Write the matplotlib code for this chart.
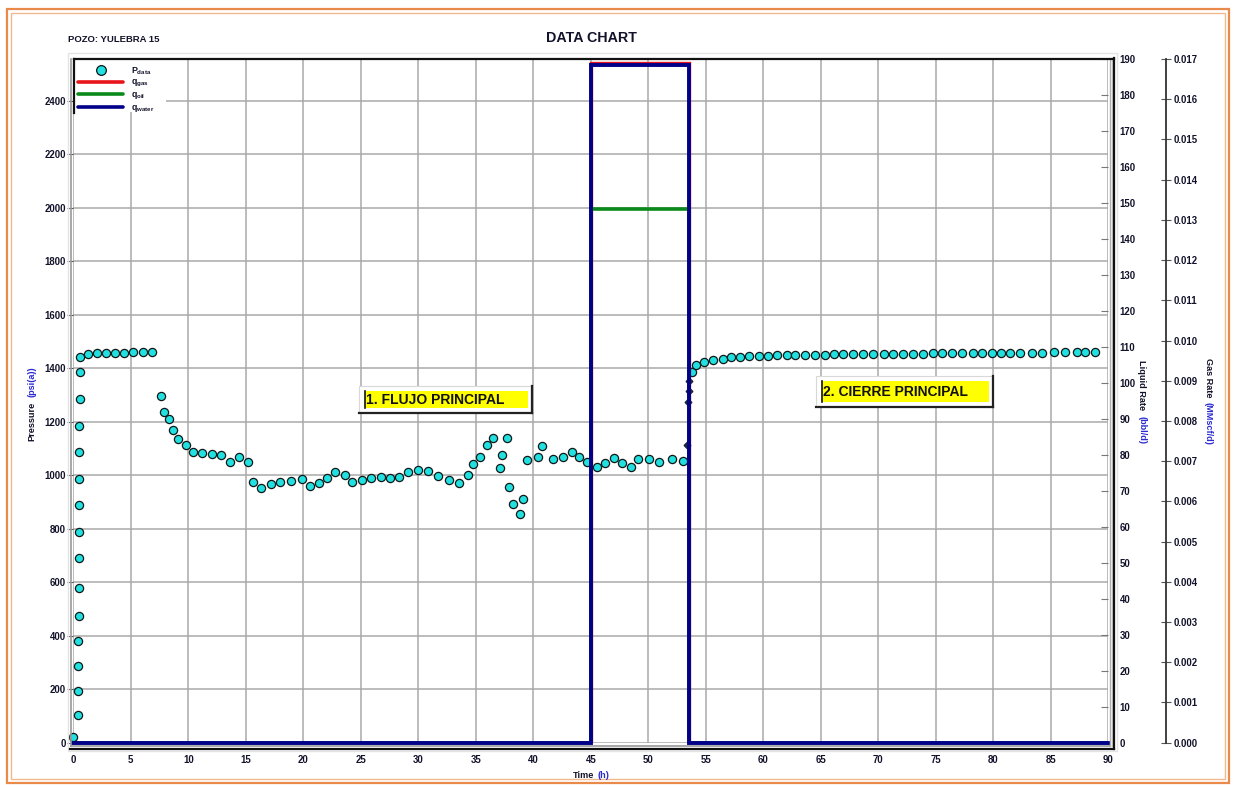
import matplotlib
matplotlib.use("Agg")
import matplotlib.pyplot as plt
from matplotlib.patches import Rectangle

plt.rcParams['font.family'] = ['Liberation Sans', 'DejaVu Sans']
plt.rcParams['mathtext.fontset'] = 'custom'
plt.rcParams['mathtext.rm'] = 'Liberation Sans'
plt.rcParams['mathtext.it'] = 'Liberation Sans:italic'
plt.rcParams['mathtext.bf'] = 'Liberation Sans:bold'

# ---------------- data ----------------
well_name = "POZO: YULEBRA 15"
chart_title = "DATA CHART"

# pressure gauge readings (time in h, pressure in psia)
p_time = [0.00, 0.42, 0.43, 0.44, 0.45, 0.46, 0.47, 0.48, 0.49, 0.50, 0.51, 0.52, 0.53, 0.54, 0.55,
          0.58, 1.25, 2.06, 2.85, 3.60, 4.38, 5.17, 6.04, 6.86,
          7.60, 7.86, 8.30, 8.70, 9.07, 9.80, 10.44, 11.20, 12.06, 12.84, 13.65, 14.40, 15.17,
          15.60, 16.35, 17.17, 17.98, 18.90, 19.86, 20.58, 21.37, 22.03, 22.76, 23.63, 24.20,
          25.08, 25.90, 26.73, 27.55, 28.35, 29.08, 30.00, 30.87, 31.74, 32.67, 33.54, 34.35,
          34.76, 35.37, 35.95, 36.53, 37.10, 37.26, 37.69, 37.92, 38.26, 38.84, 39.08, 39.43,
          40.38, 40.78, 41.69, 42.60, 43.34, 44.00, 44.70, 45.50, 46.22, 47.00, 47.68, 48.50,
          49.07, 50.06, 50.96, 52.03, 52.99,
          53.77, 54.15, 54.85, 55.65, 56.47, 57.20, 57.97, 58.80, 59.60, 60.43, 61.20,
          62.03, 62.80, 63.63, 64.50, 65.37, 66.15, 66.96, 67.83, 68.70, 69.57, 70.50, 71.30,
          72.17, 73.04, 73.86, 74.73, 75.51, 76.38, 77.25, 78.26, 78.99, 79.86, 80.64, 81.45,
          82.32, 83.34, 84.21, 85.28, 86.23, 87.25, 87.97, 88.84]
p_psia = [20, 104, 194, 288, 381, 474, 579, 690, 787, 888, 985, 1086, 1184, 1284, 1385,
          1443, 1452, 1457, 1457, 1457, 1457, 1460, 1460, 1460,
          1297, 1237, 1211, 1169, 1136, 1113, 1088, 1084, 1079, 1075, 1050, 1067, 1050,
          976, 951, 967, 976, 979, 985, 961, 970, 988, 1013, 1001, 976,
          982, 991, 994, 988, 994, 1012, 1019, 1015, 998, 982, 972, 1000,
          1041, 1069, 1113, 1138, 1028, 1076, 1140, 957, 891, 854, 911, 1057,
          1069, 1109, 1061, 1067, 1087, 1069, 1050, 1032, 1047, 1063, 1047, 1032,
          1061, 1061, 1048, 1061, 1054,
          1387, 1412, 1424, 1431, 1434, 1441, 1443, 1446, 1446, 1447, 1449,
          1449, 1449, 1449, 1450, 1451, 1452, 1452, 1453, 1453, 1453, 1454, 1454,
          1455, 1455, 1455, 1456, 1456, 1456, 1456, 1457, 1457, 1457, 1457, 1457,
          1458, 1458, 1458, 1459, 1460, 1461, 1461, 1461]

# readings at the instant of shut-in (drawn as small dark points)
shut_time = [53.40, 53.45, 53.50, 53.55]
shut_psia = [1113, 1275, 1316, 1353]

# rate history (step profile)
rate_time = [0.0, 45.0, 45.0, 53.55, 53.55, 90.0]
q_water = [0.0, 0.0, 188.4, 188.4, 0.0, 0.0]      # bbl/d
q_oil = [0.0, 0.0, 148.2, 148.2, 0.0, 0.0]        # bbl/d
q_gas = [0.0, 0.0, 0.0169, 0.0169, 0.0, 0.0]      # MMscf/d

time_ticks = list(range(0, 91, 5))
pressure_ticks = list(range(0, 2401, 200))
liquid_ticks = list(range(0, 191, 10))
gas_ticks = [i / 1000 for i in range(0, 18)]

flow_label = "1. FLUJO PRINCIPAL"
buildup_label = "2. CIERRE PRINCIPAL"

# ---------------- figure ----------------
W, H = 1234, 785
fig = plt.figure(figsize=(W / 100, H / 100), dpi=100)
fig.patch.set_facecolor('white')


def px_box(l, t, r, b):
    return [l / W, 1 - b / H, (r - l) / W, (b - t) / H]


PL, PT, PR, PB = 73.3, 59.0, 1108.3, 742.7
TXT = '#12122a'
BLUE_TXT = '#2a2ad0'
GRID = '#a9a9a9'
TICK_FS = 6.9

ax = fig.add_axes(px_box(PL, PT, PR, PB))
ax.set_xlim(0, 90)
ax.set_ylim(0, 2556)
ax.set_xticks(time_ticks)
ax.set_yticks(pressure_ticks)
ax.grid(True, color=GRID, lw=1.1)
ax.set_axisbelow(True)
for s in ax.spines.values():
    s.set_visible(False)
ax.tick_params(axis='x', length=0, pad=9, labelsize=TICK_FS, labelcolor=TXT)
ax.tick_params(axis='y', direction='out', length=4, width=0.8, color='#555555',
               pad=1.5, labelsize=TICK_FS, labelcolor=TXT)

ax.plot(p_time, p_psia, ls='none', marker='o', ms=5.9, mfc='#22e0e0',
        mec='#101818', mew=0.9, clip_on=False, zorder=3)
ax.plot(shut_time, shut_psia, ls='none', marker='D', ms=3.4, mfc='#1a2633',
        mec='#1a2633', clip_on=False, zorder=3)

# gas rate axis (outer right)
ax3 = ax.twinx()
ax3.set_zorder(1)
ax3.set_ylim(0, 0.01696)
ax3.set_yticks(gas_ticks)
ax3.set_yticklabels([f"{v:.3f}" for v in gas_ticks])
for k in ('top', 'bottom', 'left'):
    ax3.spines[k].set_visible(False)
ax3.spines['right'].set_position(('axes', (1166 - PL) / (PR - PL)))
ax3.spines['right'].set_color('#333333')
ax3.spines['right'].set_linewidth(1.3)
ax3.tick_params(axis='y', direction='inout', length=7, width=0.8, color='#555555',
                pad=2, labelsize=TICK_FS, labelcolor=TXT)
ax3.plot(rate_time, q_gas, color='#e8141a', lw=2.4, solid_joinstyle='miter')

# liquid rate axis (inner right)
ax2 = ax.twinx()
ax2.set_zorder(2)
ax2.set_ylim(0, 190)
ax2.set_yticks(liquid_ticks)
for s in ax2.spines.values():
    s.set_visible(False)
ax2.tick_params(axis='y', direction='in', length=5, width=0.8, color='#777777',
                pad=8, labelsize=TICK_FS, labelcolor=TXT)
ax2.plot(rate_time, q_oil, color='#0a8a1a', lw=2.6, solid_joinstyle='miter')
ax2.plot(rate_time, q_water, color='#000088', lw=2.8, solid_joinstyle='miter',
         clip_on=False)

for a in (ax, ax2, ax3):
    for lab in a.get_xticklabels() + a.get_yticklabels():
        lab.set_fontweight('bold')

# ---------------- overlay for frame, titles, legend and annotations ----------------
ov = fig.add_axes([0, 0, 1, 1], zorder=10)
ov.set_xlim(0, W)
ov.set_ylim(H, 0)
ov.axis('off')
ov.patch.set_visible(False)

# page border
ov.add_patch(Rectangle((7, 9), 1222, 774, fill=False, ec='#e98a4a', lw=1.6))
ov.add_patch(Rectangle((11, 13), 1214, 766, fill=False, ec='#f3b98e', lw=1.0))

# plot frame
ov.add_patch(Rectangle((68, 53), 1049, 698, fill=False, ec='#e4e4e4', lw=1.0))
ov.plot([71, 71], [59, 746], color='#9a9a9a', lw=1.2)
ov.plot([71, 1110], [745.7, 745.7], color='#9a9a9a', lw=1.2)
ov.plot([1109.5, 1109.5], [59, 746], color='#b0b0b0', lw=1.0)
ov.plot([1111.7, 1111.7], [59, 746], color='#c8c8c8', lw=1.0)
ov.plot([70, 1113.5], [748.6, 748.6], color='#111111', lw=1.6)
ov.plot([1113.5, 1113.5], [58, 749], color='#111111', lw=1.6)
ov.plot([74, 1113.5], [59.3, 59.3], color='#111111', lw=1.6)

# legend
ov.add_patch(Rectangle((74.5, 60.2), 91, 52, fc='white', ec='none'))
ov.plot([74.3, 74.3], [59.3, 113], color='#111111', lw=1.6)
ov.plot([101], [70], ls='none', marker='o', ms=7.0, mfc='#22e0e0', mec='#101818', mew=0.9)
ov.plot([78, 123], [81.5, 81.5], color='#e8141a', lw=2.6, solid_capstyle='round')
ov.plot([78, 123], [94, 94], color='#0a8a1a', lw=2.6, solid_capstyle='round')
ov.plot([78, 123], [106.5, 106.5], color='#000088', lw=2.6, solid_capstyle='round')
leg_kw = dict(fontsize=6.3, color=TXT, va='center', ha='left')
ov.text(131, 71, r'$\mathbf{P}_{\mathbf{data}}$', **leg_kw)
ov.text(131, 83, r'$\mathbf{q}_{\mathbf{gas}}$', **leg_kw)
ov.text(131, 95.5, r'$\mathbf{q}_{\mathbf{oil}}$', **leg_kw)
ov.text(131, 108, r'$\mathbf{q}_{\mathbf{water}}$', **leg_kw)

# titles
ov.text(591, 38, chart_title, fontsize=10.3, fontweight='bold', color=TXT,
        ha='center', va='center')
ov.text(68, 39.5, well_name, fontsize=6.8, fontweight='bold', color=TXT,
        ha='left', va='center')

# axis titles
lab_kw = dict(fontsize=6.6, fontweight='bold', ha='center', va='center')
ov.text(32.3, 421.5, 'Pressure', rotation=90, color=TXT, **lab_kw)
ov.text(32.3, 382, '(psi(a))', rotation=90, color=BLUE_TXT, **lab_kw)
ov.text(1141.7, 385, 'Liquid Rate', rotation=270, color=TXT, **lab_kw)
ov.text(1141.7, 430, '(bbl/d)', rotation=270, color=BLUE_TXT, **lab_kw)
ov.text(1208.3, 378, 'Gas Rate', rotation=270, color=TXT, **lab_kw)
ov.text(1208.3, 423.5, '(MMscf/d)', rotation=270, color=BLUE_TXT, **lab_kw)
ov.text(584, 775, 'Time', color=TXT, **lab_kw)
ov.text(603, 775, '(h)', color=BLUE_TXT, **lab_kw)


def tag(x0, y0, x1, y1, text):
    # raised label: pale frame, dark shadow, yellow face
    ov.add_patch(Rectangle((x0 - 6, y0 - 5), (x1 - x0) + 9, (y1 - y0) + 10,
                           fc='white', ec='#d8d8d8', lw=0.8))
    ov.plot([x0 - 6, x1 + 3.5], [y1 + 5.5, y1 + 5.5], color='#222222', lw=1.6)
    ov.plot([x1 + 3.5, x1 + 3.5], [y0 - 5, y1 + 5.5], color='#222222', lw=1.6)
    ov.add_patch(Rectangle((x0, y0), x1 - x0, y1 - y0, fc='#ffff00', ec='none'))
    ov.plot([x0, x0], [y0, y1], color='#111111', lw=1.2)
    ov.text(x0 + 1.5, (y0 + y1) / 2 + 0.5, text, fontsize=10, fontweight='bold',
            color='#111111', ha='left', va='center')


tag(365, 390.5, 528, 407.5, flow_label)
tag(821.7, 380.5, 989.3, 401.5, buildup_label)

fig.savefig('out.png', dpi=100)
